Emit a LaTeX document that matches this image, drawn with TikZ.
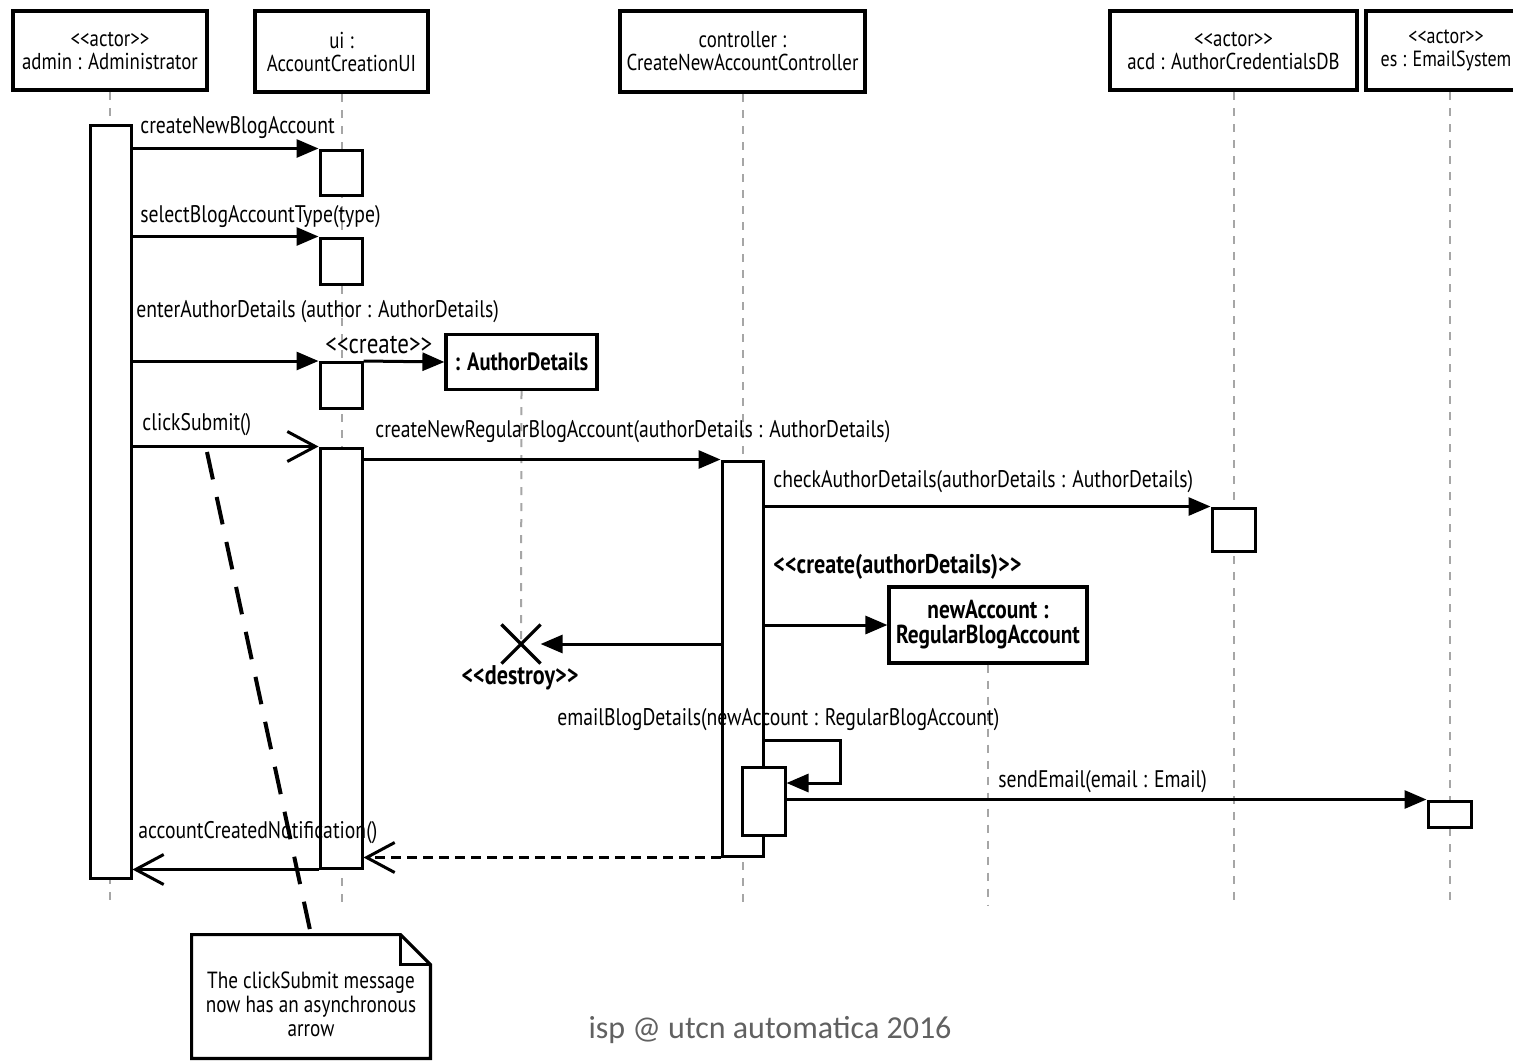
\documentclass[tikz,border=0pt]{standalone}
\usepackage{fontspec}
\newfontfamily\cf[FakeStretch=0.82]{PT Sans}
\newfontfamily\footfont{Carlito}
\usetikzlibrary{arrows.meta,shapes.misc}
\newcommand\dlt{<\kern0pt<}
\newcommand\dgt{>\kern0pt>}
\tikzset{
 txt/.style={font=\cf\fontsize{12}{11.5}\selectfont},
 head/.style={draw, line width=2.4pt, fill=white, align=center, font=\cf\fontsize{11.5}{11.5}\selectfont, inner sep=0pt},
 obj/.style={draw, line width=1.6pt, fill=white, align=center, inner sep=0pt, font=\cf\bfseries\fontsize{12.5}{12.5}\selectfont},
 act/.style={draw, line width=1.5pt, fill=white, minimum width=21pt, inner sep=0pt},
 life/.style={draw=gray!70, line width=1pt, dash pattern=on 4pt off 4pt},
 msg/.style={line width=1.5pt, -{Triangle[length=11pt,width=9pt]}},
 async/.style={line width=1.5pt, -{Straight Barb[length=14pt,width=15pt,line width=1.5pt]}},
 reply/.style={async, dash pattern=on 5pt off 3pt},
 notelink/.style={line width=2pt, dash pattern=on 14pt off 9pt},
 lbl/.style={txt, anchor=west, inner sep=0pt},
 bigl/.style={font=\cf\bfseries\fontsize{13.5}{13.5}\selectfont, inner sep=0pt},
}
\begin{document}
\begin{tikzpicture}[x=0.5pt,y=-0.5pt]
\useasboundingbox (0,0) rectangle (1513,1060);
\clip (0,0) rectangle (1513,1060);
\fill[white] (0,0) rectangle (1513,1060);

% heads
\node[head, minimum width=97pt, minimum height=39.5pt] (admin) at (110,50.5) {\dlt actor\dgt\\admin : Administrator};
\node[head, minimum width=86.5pt, minimum height=40.5pt] (ui) at (341.5,51.5) {ui :\\AccountCreationUI};
\node[head, minimum width=122.5pt, minimum height=40.5pt] (ctrl) at (742.5,51.5) {controller :\\CreateNewAccountController};
\node[head, minimum width=123.5pt, minimum height=39.5pt] (acd) at (1233.5,50.5) {\dlt actor\dgt\\acd : AuthorCredentialsDB};
\node[head, minimum width=80pt, minimum height=39.5pt, font=\cf\fontsize{11}{11.5}\selectfont] (es) at (1446,50.5) {\dlt actor\dgt\\es : EmailSystem};

% created objects
\node[obj, minimum width=75.5pt, minimum height=27.5pt] (ad) at (521.5,362) {: AuthorDetails};
\node[obj, minimum width=99pt, minimum height=38pt, font=\cf\bfseries\fontsize{13}{12.5}\selectfont] (na) at (988,625) {newAccount :\\RegularBlogAccount};
\node[cross out, draw, line width=1.6pt, minimum size=18pt, inner sep=0pt] (X) at (521,644) {};

% lifeline ends
\coordinate (adminEnd) at (110,905);
\coordinate (uiEnd) at (341.5,905);
\coordinate (ctrlEnd) at (742.5,905);
\coordinate (acdEnd) at (1233.5,905);
\coordinate (esEnd) at (1450,905);
\coordinate (naEnd) at (988,905);

\draw[life] (admin.south) -- (adminEnd);
\draw[life] (ui.south) -- (uiEnd);
\draw[life] (ctrl.south) -- (ctrlEnd);
\draw[life] (acd.south) -- (acdEnd);
\draw[life] (es.south -| esEnd) -- (esEnd);
\draw[life] (na.south) -- (naEnd);
\draw[life] (ad.south) -- (X.center);

% activations
\node[act, minimum width=20.5pt, minimum height=376.5pt] (adminAct) at (110.5,501.5) {};
\node[act, minimum height=22.5pt] (ui1) at (341,172.5) {};
\node[act, minimum height=23pt] (ui2) at (341,261) {};
\node[act, minimum height=23pt] (ui3) at (341,385.5) {};
\node[act, minimum height=210pt] (ui4) at (341,658) {};
\node[act, minimum width=20.5pt, minimum height=197.5pt] (ctrlAct) at (742.5,658.5) {};
\node[act, minimum width=21.5pt, minimum height=34pt] (ctrlNest) at (763.5,801) {};
\node[act, minimum width=21.5pt, minimum height=21.5pt] (acdAct) at (1233.5,529.5) {};
\node[act, minimum width=21.5pt, minimum height=13pt] (esAct) at (1449.5,814) {};

% messages
\draw[msg] (adminAct.east |- ui1.north) -- (ui1.north west);
\draw[msg] (adminAct.east |- ui2.north) -- (ui2.north west);
\draw[msg] (adminAct.east |- ui3.north) -- (ui3.north west);
\draw[msg] (ui3.north east) -- (ad.west);
\draw[async] (adminAct.east |- ui4.north) -- (ui4.north west);
\draw[msg] (ui4.east |- ctrlAct.north) -- (ctrlAct.north west);
\draw[msg] (ctrlAct.east |- acdAct.north) -- (acdAct.north west);
\draw[msg] (ctrlAct.east |- na.west) -- (na.west);
\draw[msg] (ctrlAct.west |- X) -- (X);
\coordinate (selfA) at (840,740);
\coordinate (selfB) at (840,783);
\draw[msg] (ctrlAct.east |- selfA) -- (selfA) -- (selfB) -- (ctrlNest.east |- selfB);
\draw[msg] (ctrlNest.east |- esAct.north) -- (esAct.north west);
\draw[reply] (ctrlAct.south west) -- (ui4.east |- ctrlAct.south west);
\draw[async] (ui4.south west) -- (adminAct.east |- ui4.south west);

% labels
\node[lbl] (l1) at (140,128) {createNewBlogAccount};
\node[lbl] (l2) at (140,217) {selectBlogAccountType(type)};
\node[lbl] (l3) at (136,312) {enterAuthorDetails (author : AuthorDetails)};
\node[lbl, font=\cf\fontsize{14}{14}\selectfont] (l4) at (325,345) {\dlt create\dgt};
\node[lbl] (l5) at (142,425) {clickSubmit()};
\node[lbl] (l6) at (375,432) {createNewRegularBlogAccount(authorDetails : AuthorDetails)};
\node[lbl] (l7) at (773,482) {checkAuthorDetails(authorDetails : AuthorDetails)};
\node[bigl, anchor=west] (l8) at (773,567) {\dlt create(authorDetails)\dgt};
\node[bigl] (l9) at (520,678) {\dlt destroy\dgt};
\node[lbl] (l10) at (557,720) {emailBlogDetails(newAccount : RegularBlogAccount)};
\node[lbl] (l11) at (998,782) {sendEmail(email : Email)};
\node[lbl] (l12) at (138,833) {accountCreatedNotification()};

% note
\node[minimum width=119pt, minimum height=61.5pt, inner sep=0pt] (note) at (311,996.5) {};
\node[align=center, font=\cf\fontsize{11.7}{12}\selectfont, inner sep=0pt] (notetext) at (311,1004) {The clickSubmit message\\now has an asynchronous\\arrow};
\draw[line width=1.6pt] (note.north west) -- ([xshift=-15pt]note.north east) -- ([yshift=-15pt]note.north east) -- (note.south east) -- (note.south west) -- cycle;
\draw[line width=1.6pt] ([xshift=-15pt]note.north east) |- ([yshift=-15pt]note.north east);
\coordinate (cs) at (207,452);
\draw[notelink] (cs) -- (note.north);

% footer
\node[font=\footfont\fontsize{16}{20}\selectfont, text=black!62] (foot) at (770,1030) {isp @ utcn automatica 2016};
\end{tikzpicture}
\end{document}
